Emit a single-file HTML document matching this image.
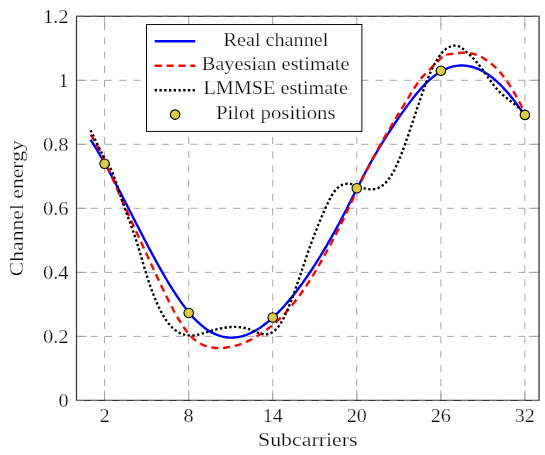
<!DOCTYPE html>
<html><head><meta charset="utf-8"><title>Channel estimate</title>
<style>
html,body{margin:0;padding:0;background:#fff;}
body{width:545px;height:455px;overflow:hidden;font-family:"Liberation Serif",serif;}
svg{display:block;will-change:transform;}
text{font-family:"Liberation Serif",serif;font-size:18px;fill:#000;stroke:#fff;stroke-width:0.25px;}
</style></head><body>
<svg width="545" height="455" viewBox="0 0 545 455">
<rect width="545" height="455" fill="#fff"/>
<g stroke="#a2a2a2" stroke-width="0.95" stroke-dasharray="7.12 7.12" fill="none"><line x1="104.6" y1="400.45" x2="104.6" y2="16.3"/><line x1="188.7" y1="400.45" x2="188.7" y2="16.3"/><line x1="272.7" y1="400.45" x2="272.7" y2="16.3"/><line x1="356.8" y1="400.45" x2="356.8" y2="16.3"/><line x1="440.9" y1="400.45" x2="440.9" y2="16.3"/><line x1="524.9" y1="400.45" x2="524.9" y2="16.3"/><line x1="76.5" y1="400.4" x2="539.0" y2="400.4"/><line x1="76.5" y1="336.4" x2="539.0" y2="336.4"/><line x1="76.5" y1="272.4" x2="539.0" y2="272.4"/><line x1="76.5" y1="208.3" x2="539.0" y2="208.3"/><line x1="76.5" y1="144.3" x2="539.0" y2="144.3"/><line x1="76.5" y1="80.3" x2="539.0" y2="80.3"/><line x1="76.5" y1="16.3" x2="539.0" y2="16.3"/></g>
<g stroke="#a2a2a2" stroke-width="0.95" fill="none"><line x1="104.6" y1="400.45" x2="104.6" y2="390.3"/><line x1="104.6" y1="16.3" x2="104.6" y2="26.4"/><line x1="188.7" y1="400.45" x2="188.7" y2="390.3"/><line x1="188.7" y1="16.3" x2="188.7" y2="26.4"/><line x1="272.7" y1="400.45" x2="272.7" y2="390.3"/><line x1="272.7" y1="16.3" x2="272.7" y2="26.4"/><line x1="356.8" y1="400.45" x2="356.8" y2="390.3"/><line x1="356.8" y1="16.3" x2="356.8" y2="26.4"/><line x1="440.9" y1="400.45" x2="440.9" y2="390.3"/><line x1="440.9" y1="16.3" x2="440.9" y2="26.4"/><line x1="524.9" y1="400.45" x2="524.9" y2="390.3"/><line x1="524.9" y1="16.3" x2="524.9" y2="26.4"/><line x1="76.5" y1="336.4" x2="86.6" y2="336.4"/><line x1="539.0" y1="336.4" x2="528.9" y2="336.4"/><line x1="76.5" y1="272.4" x2="86.6" y2="272.4"/><line x1="539.0" y1="272.4" x2="528.9" y2="272.4"/><line x1="76.5" y1="208.3" x2="86.6" y2="208.3"/><line x1="539.0" y1="208.3" x2="528.9" y2="208.3"/><line x1="76.5" y1="144.3" x2="86.6" y2="144.3"/><line x1="539.0" y1="144.3" x2="528.9" y2="144.3"/><line x1="76.5" y1="80.3" x2="86.6" y2="80.3"/><line x1="539.0" y1="80.3" x2="528.9" y2="80.3"/></g>
<rect x="76.5" y="16.3" width="462.5" height="384.1" fill="none" stroke="#363636" stroke-width="1.25"/>
<g stroke="#a8a8a8" stroke-width="1.1" stroke-dasharray="7.12 7.12" fill="none" opacity="0.5"><line x1="76.5" y1="400.45" x2="539.0" y2="400.45"/><line x1="76.5" y1="16.3" x2="539.0" y2="16.3"/></g>
<path d="M90.5,139.6 L92.5,142.7 L94.5,145.9 L96.5,149.2 L98.5,152.6 L100.5,156.0 L102.5,159.5 L104.5,163.0 L106.5,166.6 L108.5,170.2 L110.5,173.9 L112.5,177.6 L114.5,181.4 L116.5,185.2 L118.5,189.0 L120.5,192.8 L122.5,196.7 L124.5,200.6 L126.5,204.4 L128.5,208.4 L130.5,212.3 L132.5,216.2 L134.5,220.1 L136.5,224.0 L138.5,227.9 L140.5,231.8 L142.5,235.6 L144.5,239.5 L146.5,243.3 L148.5,247.1 L150.5,250.9 L152.5,254.6 L154.5,258.3 L156.5,262.0 L158.5,265.6 L160.5,269.2 L162.5,272.7 L164.5,276.1 L166.5,279.5 L168.5,282.9 L170.5,286.1 L172.5,289.3 L174.5,292.4 L176.5,295.5 L178.5,298.4 L180.5,301.3 L182.5,304.1 L184.5,306.8 L186.5,309.4 L188.5,311.9 L190.5,314.3 L192.5,316.6 L194.5,318.7 L196.5,320.8 L198.5,322.7 L200.5,324.5 L202.5,326.2 L204.5,327.8 L206.5,329.3 L208.5,330.6 L210.5,331.8 L212.5,332.9 L214.5,333.9 L216.5,334.7 L218.5,335.5 L220.5,336.1 L222.5,336.6 L224.5,337.0 L226.5,337.3 L228.5,337.5 L230.5,337.6 L232.5,337.6 L234.5,337.5 L236.5,337.3 L238.5,337.0 L240.5,336.6 L242.5,336.1 L244.5,335.5 L246.5,334.8 L248.5,334.0 L250.5,333.1 L252.5,332.1 L254.5,331.1 L256.5,329.9 L258.5,328.7 L260.5,327.4 L262.5,326.0 L264.5,324.5 L266.5,323.0 L268.5,321.4 L270.5,319.7 L272.5,317.9 L274.5,316.0 L276.5,314.1 L278.5,312.1 L280.5,310.0 L282.5,307.9 L284.5,305.7 L286.5,303.4 L288.5,301.1 L290.5,298.7 L292.5,296.2 L294.5,293.7 L296.5,291.2 L298.5,288.5 L300.5,285.8 L302.5,283.1 L304.5,280.3 L306.5,277.4 L308.5,274.5 L310.5,271.5 L312.5,268.5 L314.5,265.4 L316.5,262.3 L318.5,259.1 L320.5,255.9 L322.5,252.6 L324.5,249.2 L326.5,245.9 L328.5,242.4 L330.5,238.9 L332.5,235.4 L334.5,231.8 L336.5,228.1 L338.5,224.5 L340.5,220.7 L342.5,216.9 L344.5,213.1 L346.5,209.2 L348.5,205.3 L350.5,201.4 L352.5,197.4 L354.5,193.5 L356.5,189.5 L358.5,185.6 L360.5,181.7 L362.5,177.8 L364.5,174.0 L366.5,170.2 L368.5,166.6 L370.5,162.9 L372.5,159.4 L374.5,155.9 L376.5,152.5 L378.5,149.1 L380.5,145.8 L382.5,142.5 L384.5,139.3 L386.5,136.2 L388.5,133.1 L390.5,130.0 L392.5,127.0 L394.5,124.0 L396.5,121.0 L398.5,118.1 L400.5,115.2 L402.5,112.4 L404.5,109.6 L406.5,106.8 L408.5,104.1 L410.5,101.4 L412.5,98.8 L414.5,96.3 L416.5,93.8 L418.5,91.4 L420.5,89.1 L422.5,86.9 L424.5,84.8 L426.5,82.7 L428.5,80.8 L430.5,79.0 L432.5,77.3 L434.5,75.7 L436.5,74.3 L438.5,72.9 L440.5,71.7 L442.5,70.6 L444.5,69.6 L446.5,68.7 L448.5,67.9 L450.5,67.2 L452.5,66.6 L454.5,66.2 L456.5,65.9 L458.5,65.6 L460.5,65.5 L462.5,65.5 L464.5,65.6 L466.5,65.8 L468.5,66.1 L470.5,66.5 L472.5,67.0 L474.5,67.6 L476.5,68.4 L478.5,69.2 L480.5,70.1 L482.5,71.1 L484.5,72.3 L486.5,73.5 L488.5,74.8 L490.5,76.3 L492.5,77.8 L494.5,79.5 L496.5,81.2 L498.5,83.0 L500.5,84.9 L502.5,87.0 L504.5,89.1 L506.5,91.3 L508.5,93.6 L510.5,96.0 L512.5,98.5 L514.5,101.1 L516.5,103.8 L518.5,106.6 L520.5,109.4 L522.5,112.4 L524.5,115.4 L524.8,115.9" fill="none" stroke="#0000ff" stroke-width="2.37"/>
<path d="M90.6,134.6 L92.6,137.7 L94.6,141.0 L96.6,144.6 L98.6,148.4 L100.6,152.3 L102.6,156.4 L104.6,160.7 L106.6,165.0 L108.6,169.5 L110.6,174.0 L112.6,178.6 L114.6,183.3 L116.6,187.9 L118.6,192.6 L120.6,197.2 L122.6,201.7 L124.6,206.2 L126.6,210.6 L128.6,215.0 L130.6,219.4 L132.6,223.7 L134.6,228.1 L136.6,232.4 L138.6,236.7 L140.6,241.0 L142.6,245.4 L144.6,249.7 L146.6,254.1 L148.6,258.5 L150.6,262.8 L152.6,267.2 L154.6,271.5 L156.6,275.9 L158.6,280.1 L160.6,284.4 L162.6,288.6 L164.6,292.7 L166.6,296.8 L168.6,300.8 L170.6,304.7 L172.6,308.5 L174.6,312.2 L176.6,315.8 L178.6,319.2 L180.6,322.5 L182.6,325.6 L184.6,328.5 L186.6,331.2 L188.6,333.7 L190.6,335.9 L192.6,337.9 L194.6,339.7 L196.6,341.2 L198.6,342.6 L200.6,343.8 L202.6,344.8 L204.6,345.6 L206.6,346.3 L208.6,346.9 L210.6,347.3 L212.6,347.6 L214.6,347.8 L216.6,348.0 L218.6,348.0 L220.6,348.0 L222.6,347.9 L224.6,347.7 L226.6,347.5 L228.6,347.2 L230.6,346.9 L232.6,346.5 L234.6,346.0 L236.6,345.4 L238.6,344.8 L240.6,344.1 L242.6,343.4 L244.6,342.6 L246.6,341.7 L248.6,340.8 L250.6,339.8 L252.6,338.8 L254.6,337.7 L256.6,336.5 L258.6,335.3 L260.6,334.0 L262.6,332.7 L264.6,331.3 L266.6,329.9 L268.6,328.3 L270.6,326.8 L272.6,325.1 L274.6,323.4 L276.6,321.6 L278.6,319.7 L280.6,317.8 L282.6,315.8 L284.6,313.7 L286.6,311.6 L288.6,309.3 L290.6,307.0 L292.6,304.6 L294.6,302.1 L296.6,299.5 L298.6,296.9 L300.6,294.1 L302.6,291.3 L304.6,288.4 L306.6,285.4 L308.6,282.3 L310.6,279.1 L312.6,275.9 L314.6,272.6 L316.6,269.2 L318.6,265.8 L320.6,262.3 L322.6,258.8 L324.6,255.2 L326.6,251.5 L328.6,247.9 L330.6,244.2 L332.6,240.4 L334.6,236.6 L336.6,232.8 L338.6,228.9 L340.6,224.9 L342.6,220.9 L344.6,216.8 L346.6,212.6 L348.6,208.3 L350.6,204.0 L352.6,199.7 L354.6,195.3 L356.6,191.0 L358.6,186.8 L360.6,182.6 L362.6,178.5 L364.6,174.5 L366.6,170.5 L368.6,166.6 L370.6,162.7 L372.6,158.9 L374.6,155.2 L376.6,151.5 L378.6,147.9 L380.6,144.3 L382.6,140.7 L384.6,137.2 L386.6,133.8 L388.6,130.3 L390.6,127.0 L392.6,123.6 L394.6,120.3 L396.6,116.9 L398.6,113.7 L400.6,110.4 L402.6,107.1 L404.6,103.8 L406.6,100.6 L408.6,97.3 L410.6,94.0 L412.6,90.8 L414.6,87.6 L416.6,84.6 L418.6,81.7 L420.6,79.1 L422.6,76.6 L424.6,74.5 L426.0,73.3 L444.3,54.8 L444.3,54.8 L446.3,54.6 L448.3,54.3 L450.3,54.1 L452.3,53.8 L454.3,53.5 L456.3,53.3 L458.3,53.1 L460.3,52.9 L462.3,52.8 L464.3,52.8 L466.3,52.9 L468.3,53.0 L470.3,53.3 L472.3,53.6 L474.3,54.2 L476.3,54.8 L478.3,55.6 L480.3,56.5 L482.3,57.5 L484.3,58.7 L486.3,60.0 L488.3,61.4 L490.3,62.9 L492.3,64.6 L494.3,66.4 L496.3,68.3 L498.3,70.4 L500.3,72.6 L502.3,75.0 L504.3,77.5 L506.3,80.3 L508.3,83.2 L510.3,86.3 L512.3,89.5 L514.3,92.9 L516.3,96.4 L518.3,100.1 L520.3,103.8 L522.3,107.7 L524.3,111.7 L524.8,112.7" fill="none" stroke-linejoin="round" stroke="#ff0000" stroke-width="2.37" stroke-dasharray="7.12 4.75"/>
<path d="M90.5,130.2 L92.5,134.2 L94.5,138.3 L96.5,142.5 L98.5,146.7 L100.5,150.7 L102.5,154.5 L104.5,158.1 L106.5,161.3 L108.5,164.5 L110.5,168.2 L112.5,172.8 L114.5,178.0 L116.5,183.7 L118.5,189.6 L120.5,195.6 L122.5,201.6 L124.5,207.4 L126.5,213.1 L128.5,218.5 L130.5,223.9 L132.5,229.4 L134.5,235.1 L136.5,241.2 L138.5,247.7 L140.5,254.4 L142.5,261.3 L144.5,268.1 L146.5,274.6 L148.5,280.8 L150.5,286.7 L152.5,292.1 L154.5,297.3 L156.5,302.1 L158.5,306.5 L160.5,310.6 L162.5,314.3 L164.5,317.7 L166.5,320.7 L168.5,323.4 L170.5,325.8 L172.5,327.8 L174.5,329.6 L176.5,331.1 L178.5,332.4 L180.5,333.4 L182.5,334.2 L184.5,334.7 L186.5,335.1 L188.5,335.4 L190.5,335.4 L192.5,335.4 L194.5,335.2 L196.5,334.9 L198.5,334.5 L200.5,334.0 L202.5,333.5 L204.5,332.9 L206.5,332.3 L208.5,331.7 L210.5,331.1 L212.5,330.5 L214.5,330.0 L216.5,329.4 L218.5,329.0 L220.5,328.5 L222.5,328.1 L224.5,327.8 L226.5,327.5 L228.5,327.2 L230.5,327.0 L232.5,326.9 L234.5,326.9 L236.5,326.9 L238.5,327.1 L240.5,327.3 L242.5,327.6 L244.5,328.0 L246.5,328.4 L248.5,329.0 L250.5,329.7 L252.5,330.5 L254.5,331.4 L256.5,332.2 L258.5,333.0 L260.5,333.6 L262.5,334.1 L264.5,334.4 L266.5,334.3 L268.5,334.0 L270.5,333.3 L272.5,332.2 L274.5,330.8 L276.5,328.9 L278.5,326.5 L280.5,323.6 L282.5,320.3 L284.5,316.4 L286.5,312.2 L288.5,307.5 L290.5,302.5 L292.5,297.3 L294.5,291.8 L296.5,286.1 L298.5,280.3 L300.5,274.3 L302.5,268.4 L304.5,262.5 L306.5,256.6 L308.5,250.8 L310.5,245.2 L312.5,239.8 L314.5,234.5 L316.5,229.4 L318.5,224.4 L320.5,219.5 L322.5,214.8 L324.5,210.2 L326.5,205.8 L328.5,201.6 L330.5,197.7 L332.5,194.2 L334.5,191.3 L336.5,188.9 L338.5,187.1 L340.5,185.7 L342.5,184.7 L344.5,184.0 L346.5,183.7 L348.5,183.7 L350.5,183.9 L352.5,184.4 L354.5,184.9 L356.5,185.6 L358.5,186.3 L360.5,187.0 L362.5,187.7 L364.5,188.3 L366.5,188.8 L368.5,189.2 L370.5,189.4 L372.5,189.3 L374.5,189.1 L376.5,188.6 L378.5,187.9 L380.5,186.9 L382.5,185.5 L384.5,183.9 L386.5,181.9 L388.5,179.4 L390.5,176.6 L392.5,173.4 L394.5,169.7 L396.5,165.6 L398.5,161.1 L400.5,156.3 L402.5,151.1 L404.5,145.7 L406.5,140.1 L408.5,134.3 L410.5,128.4 L412.5,122.4 L414.5,116.3 L416.5,110.3 L418.5,104.4 L420.5,98.5 L422.5,92.8 L424.5,87.3 L426.5,82.0 L428.5,77.0 L430.5,72.4 L432.5,68.0 L434.5,64.1 L436.5,60.5 L438.5,57.3 L440.5,54.5 L442.5,52.1 L444.5,50.1 L446.5,48.6 L448.5,47.4 L450.5,46.5 L452.5,45.9 L454.5,45.6 L456.5,45.7 L458.5,46.2 L460.5,47.1 L462.5,48.5 L464.5,50.1 L466.5,52.0 L468.5,53.9 L470.5,55.7 L472.5,57.6 L474.5,59.6 L476.5,61.9 L478.5,64.3 L480.5,66.9 L482.5,69.6 L484.5,72.4 L486.5,75.2 L488.5,78.1 L490.5,80.9 L492.5,83.6 L494.5,86.1 L496.5,88.6 L498.5,90.8 L500.5,92.8 L502.5,94.6 L504.5,96.3 L506.5,97.9 L508.5,99.5 L510.5,101.0 L512.5,102.5 L514.5,104.1 L516.5,105.8 L518.5,107.5 L520.5,109.4 L522.5,111.5 L523.5,112.6" fill="none" stroke="#000" stroke-width="2.37" stroke-dasharray="2.37 2.37"/>
<g fill="#dbcd46" stroke="#000" stroke-width="1.1"><circle cx="104.6" cy="163.8" r="4.75"/><circle cx="188.7" cy="313.0" r="4.75"/><circle cx="272.7" cy="317.5" r="4.75"/><circle cx="356.8" cy="188.2" r="4.75"/><circle cx="440.9" cy="70.7" r="4.75"/><circle cx="524.9" cy="114.9" r="4.75"/></g>
<g><text x="58.5" y="407.0" textLength="10.1" lengthAdjust="spacingAndGlyphs">0</text><text x="42.9" y="343.0" textLength="25.7" lengthAdjust="spacingAndGlyphs">0.2</text><text x="42.9" y="279.0" textLength="25.7" lengthAdjust="spacingAndGlyphs">0.4</text><text x="42.9" y="214.9" textLength="25.7" lengthAdjust="spacingAndGlyphs">0.6</text><text x="42.9" y="150.9" textLength="25.7" lengthAdjust="spacingAndGlyphs">0.8</text><text x="58.5" y="86.9" textLength="10.1" lengthAdjust="spacingAndGlyphs">1</text><text x="42.9" y="22.9" textLength="25.7" lengthAdjust="spacingAndGlyphs">1.2</text><text x="99.6" y="421.6" textLength="10.1" lengthAdjust="spacingAndGlyphs">2</text><text x="183.6" y="421.6" textLength="10.1" lengthAdjust="spacingAndGlyphs">8</text><text x="262.7" y="421.6" textLength="20.1" lengthAdjust="spacingAndGlyphs">14</text><text x="346.7" y="421.6" textLength="20.1" lengthAdjust="spacingAndGlyphs">20</text><text x="430.8" y="421.6" textLength="20.1" lengthAdjust="spacingAndGlyphs">26</text><text x="514.8" y="421.6" textLength="20.1" lengthAdjust="spacingAndGlyphs">32</text></g>
<text x="258" y="445.8" font-size="19.2" textLength="99.5" lengthAdjust="spacingAndGlyphs">Subcarriers</text>
<text transform="translate(23,276.2) rotate(-90)" font-size="19.2" textLength="136" lengthAdjust="spacingAndGlyphs">Channel energy</text>
<rect x="146.5" y="24.5" width="215.4" height="106.9" fill="#fff" stroke="#000" stroke-width="0.95"/>
<line x1="154.7" y1="41.3" x2="195.3" y2="41.3" stroke="#0000ff" stroke-width="2.37"/>
<line x1="154.7" y1="65.8" x2="195.3" y2="65.8" stroke="#ff0000" stroke-width="2.37" stroke-dasharray="7.12 4.75"/>
<line x1="154.7" y1="90.2" x2="195.3" y2="90.2" stroke="#000" stroke-width="2.37" stroke-dasharray="2.37 2.37"/>
<circle cx="175.1" cy="114.6" r="4.75" fill="#dbcd46" stroke="#000" stroke-width="1.1"/>
<g font-size="16.3" lengthAdjust="spacingAndGlyphs"><text x="223.5" y="45.9" textLength="104.8" lengthAdjust="spacingAndGlyphs">Real channel</text><text x="201.7" y="70.2" textLength="147.9" lengthAdjust="spacingAndGlyphs">Bayesian estimate</text><text x="203.4" y="94.3" textLength="144.6" lengthAdjust="spacingAndGlyphs">LMMSE estimate</text><text x="216" y="118.6" textLength="119.6" lengthAdjust="spacingAndGlyphs">Pilot positions</text></g>
</svg>
</body></html>
